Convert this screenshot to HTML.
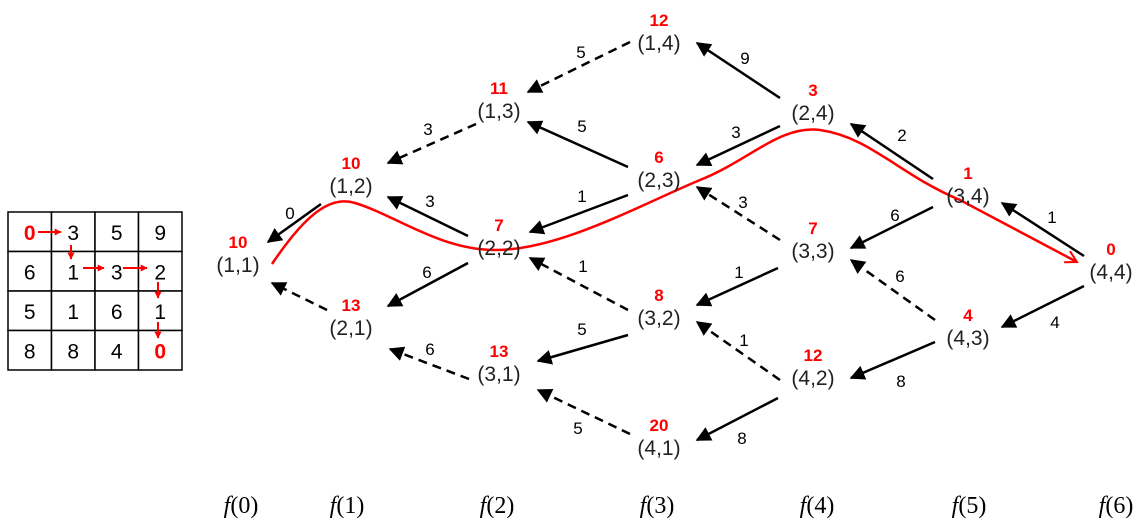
<!DOCTYPE html>
<html><head><meta charset="utf-8"><style>
html,body{margin:0;padding:0;background:#fff;}
svg{display:block;}
.n{font-family:"Liberation Sans",sans-serif;font-size:21px;fill:#222;text-anchor:middle;}
.v{font-family:"Liberation Sans",sans-serif;font-size:17px;font-weight:bold;fill:#f00;text-anchor:middle;}
.w{font-family:"Liberation Sans",sans-serif;font-size:17px;fill:#000;text-anchor:middle;}
.g{font-family:"Liberation Sans",sans-serif;font-size:21px;fill:#000;text-anchor:middle;}
.f{font-family:"Liberation Serif",serif;font-size:24px;fill:#000;text-anchor:middle;}
</style></head><body>
<svg id="c" width="1141" height="526" viewBox="0 0 1141 526">
<defs>
<marker id="ah" viewBox="0 0 10 10" refX="9" refY="5" markerWidth="6" markerHeight="6" orient="auto-start-reverse" markerUnits="strokeWidth"><path d="M0,0 L10,5 L0,10 z" fill="#000"/></marker>
<marker id="rh" viewBox="0 0 10 10" refX="9" refY="5" markerWidth="3.5" markerHeight="3.5" orient="auto" markerUnits="strokeWidth"><path d="M0,0 L10,5 L0,10 z" fill="#f00"/></marker>
<marker id="ro" viewBox="0 0 12 12" refX="10" refY="6" markerWidth="6" markerHeight="6" orient="auto" markerUnits="strokeWidth"><path d="M1,1 L10,6 L1,11" fill="none" stroke="#f00" stroke-width="1.6"/></marker>
</defs>
<g id="grid"></g>
<g id="edges"></g>
<path d="M272,264 C305,215 330,195 355,203 C395,215 440,250 495,250 C560,250 640,205 700,180 C750,160 780,125 820,130 C870,137 900,175 960,200 L1077,262" fill="none" stroke="#f00" stroke-width="2.5" marker-end="url(#ro)"/>
<g id="nodes"></g>
<g id="stages"></g>
</svg>
<script>
const NS="http://www.w3.org/2000/svg";
const gridVals=[[0,3,5,9],[6,1,3,2],[5,1,6,1],[8,8,4,0]];
const nodeLabels=["(1,1)","(1,2)","(2,1)","(1,3)","(2,2)","(3,1)","(1,4)","(2,3)","(3,2)","(4,1)","(2,4)","(3,3)","(4,2)","(3,4)","(4,3)","(4,4)"];
const nodeValues=[10,10,13,11,7,13,12,6,8,20,3,7,12,1,4,0];
const nodePos=[[238,265],[351,186],[351,328],[499,111],[499,248],[499,374],[659,43],[659,180],[659,318],[659,448],[813,113],[813,251],[813,378],[968,196],[968,338],[1111,272]];
const edgeW=[0,"",3,6,3,6,5,5,1,1,5,5,9,3,3,1,1,8,2,6,6,8,1,4];
const edges=[
[321,204,268,242,290,213,0],[327,310,272,283,0,0,1],[468,236,388,197,430,201,0],[468,263,388,306,427,272,0],
[476,124,388,163,428,129,1],[469,379,390,349,430,349,1],[630,42,528,92,581,52,1],[628,167,528,122,582,126,0],
[628,195,530,232,582,196,0],[628,310,530,258,583,266,1],[628,335,538,361,582,329,0],[630,434,538,390,578,428,1],
[780,98,697,43,745,58,0],[780,126,697,165,736,132,0],[780,240,697,187,743,202,1],[778,268,697,305,739,272,0],
[780,380,697,322,744,340,1],[778,398,697,440,742,438,0],[933,179,851,124,902,135,0],[933,207,851,248,895,215,0],
[935,320,851,260,900,276,1],[935,342,851,378,901,381,0],[1084,256,1002,203,1052,217,0],[1084,286,1002,327,1055,322,0]];
const stageLabels=["f(0)","f(1)","f(2)","f(3)","f(4)","f(5)","f(6)"];
const stageX=[241,347,497,657,817,969,1116];
function mk(t,a,p){const e=document.createElementNS(NS,t);for(const k in a)e.setAttribute(k,a[k]);p.appendChild(e);return e;}
const G=document.getElementById('grid');
for(let r=0;r<4;r++)for(let c=0;c<4;c++){
 const x=8+c*43.5,y=212+r*39.5;
 const rc=mk('rect',{x:x,y:y,width:43.5,height:39.5,fill:'#fff',stroke:'#000','stroke-width':1.5},G);
 
 
 const red=(r==0&&c==0)||(r==3&&c==3);
 const t=mk('text',{x:x+21.75,y:y+28,class:'g'},G);
 if(red){t.style.fill='#f00';t.style.fontWeight='bold';}
 t.textContent=gridVals[r][c];
 
 
}
[[38,232,61,232],[71,245,71,259],[83,268,104,268],[123,268,147,268],[158,282,158,298],[158,322,158,338]].forEach(a=>{
 const l=mk('line',{x1:a[0],y1:a[1],x2:a[2],y2:a[3],stroke:'#f00','stroke-width':2,'marker-end':'url(#rh)'},G);
 
 
});
const E=document.getElementById('edges');
edges.forEach((e,i)=>{
 const l=mk('line',{x1:e[0],y1:e[1],x2:e[2],y2:e[3],stroke:'#000','stroke-width':2.5,'marker-end':'url(#ah)'},E);
 if(e[6])l.setAttribute('stroke-dasharray','9,6');
 
 
 if(edgeW[i]!==""){
  const t=mk('text',{x:e[4],y:e[5]+6,class:'w'},E);t.textContent=edgeW[i];
  
  
 }
});
const N=document.getElementById('nodes');
nodeLabels.forEach((lb,i)=>{
 const [x,y]=nodePos[i];
 const t=mk('text',{x:x,y:y+7,class:'n'},N);t.textContent=lb;
 
 
 const v=mk('text',{x:x,y:y-17,class:'v'},N);v.textContent=nodeValues[i];
 
 
});
const S=document.getElementById('stages');
stageLabels.forEach((s,i)=>{
 const t=mk('text',{x:stageX[i],y:513,class:'f'},S);
 t.innerHTML='<tspan font-style="italic">f</tspan>'+s.slice(1);
 
 
});
</script>
</body></html>
